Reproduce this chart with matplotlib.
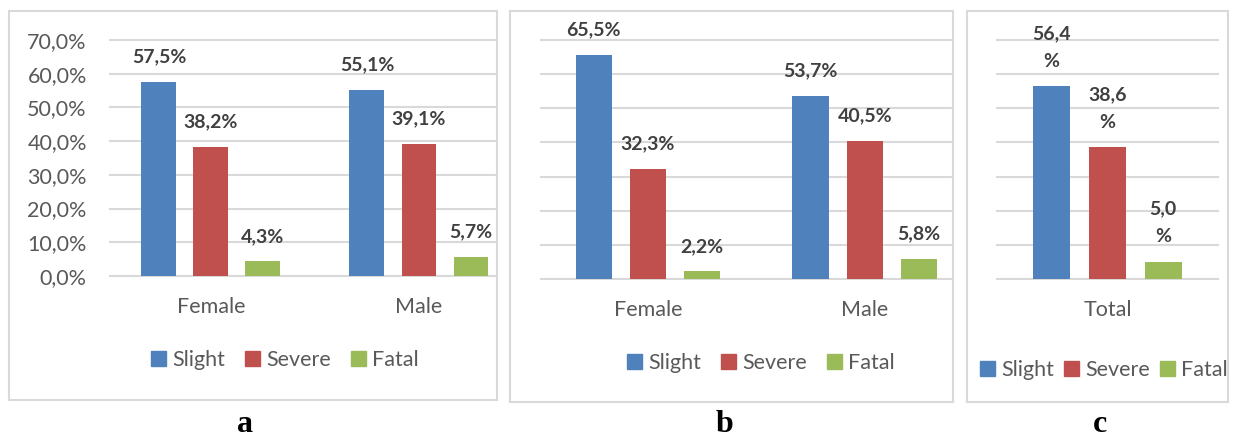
import matplotlib
matplotlib.use('Agg')
import matplotlib.pyplot as plt
from matplotlib.patches import Rectangle
import numpy as np

severity = ['Slight', 'Severe', 'Fatal']
colors = ['#4F81BD', '#C0504D', '#9BBB59']

# panel a
cats_a = ['Female', 'Male']
slight_a = [57.5, 55.1]
severe_a = [38.2, 39.1]
fatal_a = [4.3, 5.7]

# panel b
cats_b = ['Female', 'Male']
slight_b = [65.5, 53.7]
severe_b = [32.3, 40.5]
fatal_b = [2.2, 5.8]

# panel c
cats_c = ['Total']
slight_c = [56.4]
severe_c = [38.6]
fatal_c = [5.0]

yticks = [0, 10, 20, 30, 40, 50, 60, 70]
panel_letters = ['a', 'b', 'c']

W, H = 1242, 438
fig = plt.figure(figsize=(W / 100, H / 100), dpi=100)
plt.rcParams['font.family'] = ['Lato', 'DejaVu Sans']

GRID = '#D9D9D9'
TXT = '#595959'
LBL = '#404040'


def fx(px):
    return px / W


def fy(py):
    return 1 - py / H


def add_panel(box, ax_px, xlim, cats, series, labels_wrap, show_y, leg_center, colspace, letter_pos, letter):
    # border of the chart area
    x0, y0, x1, y1 = box
    fig.patches.append(Rectangle((fx(x0), fy(y1)), fx(x1 - x0), (y1 - y0) / H,
                                 transform=fig.transFigure, fill=False,
                                 edgecolor=GRID, linewidth=1.5))
    l, t, r, b = ax_px
    ax = fig.add_axes([fx(l), fy(b), fx(r - l), (b - t) / H])
    ax.set_ylim(-0.6, 70.6)
    ax.set_xlim(*xlim)
    x = np.arange(len(cats))
    width = 0.168
    offsets = [-0.25, 0, 0.25]
    for vals, col, off in zip(series, colors, offsets):
        ax.bar(x + off, vals, width, color=col, zorder=3)
        for xi, v in zip(x + off, vals):
            s = f'{v:.1f}'.replace('.', ',')
            s = s + ('\n%' if labels_wrap else '%')
            ax.annotate(s, (xi, v), xytext=(0, 12), textcoords='offset points',
                        ha='center', va='bottom', fontsize=14, fontweight='bold',
                        color=LBL, linespacing=1.75)
    ax.set_yticks(yticks)
    ax.grid(axis='y', color=GRID, linewidth=1.5, zorder=0)
    for sp in ax.spines.values():
        sp.set_visible(False)
    ax.tick_params(axis='both', length=0, labelsize=15.5, colors=TXT)
    if show_y:
        ax.set_yticklabels([f'{v:.1f}'.replace('.', ',') + '%' for v in yticks])
        ax.tick_params(axis='y', pad=16)
    else:
        ax.set_yticklabels([])
    ax.set_xticks(x)
    ax.set_xticklabels(cats)
    ax.tick_params(axis='x', pad=14)

    handles = [Rectangle((0, 0), 1, 1, color=c) for c in colors]
    fig.legend(handles, severity, loc='center', bbox_to_anchor=(fx(leg_center[0]), fy(leg_center[1])),
               ncol=3, frameon=False, fontsize=15.5, handlelength=0.7, handleheight=0.7,
               handletextpad=0.3, columnspacing=colspace, labelcolor=TXT)
    fig.text(fx(letter_pos[0]), fy(letter_pos[1]), letter, ha='center', va='baseline',
             fontsize=23, fontweight='bold', family=['Liberation Serif', 'DejaVu Serif'])
    return ax


add_panel((9, 11, 497, 400), (109, 38, 497, 278), (-0.49, 1.375), cats_a,
          [slight_a, severe_a, fatal_a], False, True, (285, 360), 0.9, (245, 432), panel_letters[0])
add_panel((510, 11, 953, 402), (540, 38, 953, 281), (-0.498, 1.406), cats_b,
          [slight_b, severe_b, fatal_b], False, False, (761, 363), 0.9, (725, 432), panel_letters[1])
add_panel((967, 11, 1228, 402), (996, 38, 1219, 281), (-0.5, 0.5), cats_c,
          [slight_c, severe_c, fatal_c], True, False, (1104, 370), 0.45, (1100, 432), panel_letters[2])

fig.savefig('out.png', dpi=100, facecolor='white')
